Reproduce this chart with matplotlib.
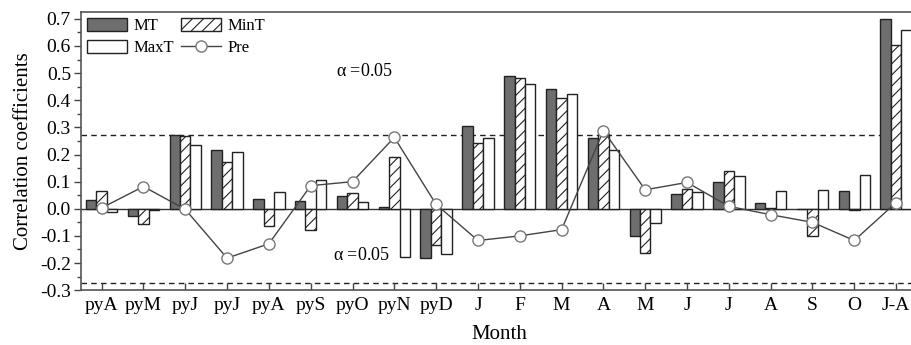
import matplotlib.pyplot as plt
import numpy as np
from matplotlib.ticker import MultipleLocator

months = ['pyA', 'pyM', 'pyJ', 'pyJ', 'pyA', 'pyS', 'pyO', 'pyN', 'pyD',
          'J', 'F', 'M', 'A', 'M', 'J', 'J', 'A', 'S', 'O', 'J-A']
mt = [0.031, -0.025, 0.273, 0.215, 0.037, 0.030, 0.046, 0.005, -0.183,
      0.304, 0.491, 0.442, 0.260, -0.100, 0.055, 0.097, 0.023, -0.002, 0.066, 0.700]
mint = [0.064, -0.055, 0.270, 0.172, -0.063, -0.077, 0.058, 0.190, -0.133,
        0.242, 0.482, 0.410, 0.275, -0.164, 0.073, 0.141, 0.003, -0.100, -0.004, 0.603]
maxt = [-0.012, -0.006, 0.236, 0.209, 0.062, 0.107, 0.025, -0.178, -0.167,
        0.260, 0.460, 0.424, 0.218, -0.053, 0.060, 0.119, 0.066, 0.070, 0.123, 0.660]
pre = [0.003, 0.082, -0.002, -0.182, -0.129, 0.085, 0.100, 0.263, 0.016,
       -0.117, -0.100, -0.077, 0.288, 0.070, 0.097, 0.009, -0.022, -0.050, -0.117, 0.023]
sig = 0.273

plt.rcParams['font.family'] = ['Liberation Serif', 'DejaVu Serif']
plt.rcParams['hatch.linewidth'] = 0.8
plt.rcParams['hatch.color'] = '#333333'

fig = plt.figure(figsize=(9.12, 3.45), dpi=100)
ax = fig.add_axes([0.0885, 0.159, 0.917, 0.806])

x = np.arange(len(months))
w = 0.25
ec = '#222222'
ax.bar(x - w, mt, w, color='#6e6e6e', edgecolor=ec, linewidth=1.0, label='MT', zorder=2)
ax.bar(x, mint, w, color='white', edgecolor=ec, hatch='///', linewidth=1.0, label='MinT', zorder=2)
ax.bar(x + w, maxt, w, color='white', edgecolor=ec, linewidth=1.0, label='MaxT', zorder=2)
ax.plot(x, pre, color='#444444', lw=1.0, marker='o', ms=8, mfc='white',
        mec='#777777', mew=1.0, label='Pre', zorder=3)

ax.axhline(0, color='#333333', lw=1.0, zorder=1)
ax.axhline(sig, color='#222222', lw=1.0, ls=(0, (4, 3)), zorder=1)
ax.axhline(-sig, color='#222222', lw=1.0, ls=(0, (4, 3)), zorder=1)
ax.text(6.28, 0.505, r'$\mathregular{\alpha}$ =0.05', fontsize=13, ha='center', va='center')
ax.text(6.22, -0.173, r'$\mathregular{\alpha}$ =0.05', fontsize=13, ha='center', va='center')

ax.set_xlim(-0.5, 19.5)
ax.set_ylim(-0.3, 0.725)
ax.set_xticks(x)
ax.set_xticklabels(months, fontsize=14)
ax.yaxis.set_minor_locator(MultipleLocator(0.05))
ax.set_yticks(np.arange(-0.3, 0.71, 0.1))
ax.set_yticklabels(['%.1f' % v for v in np.arange(-0.3, 0.71, 0.1)], fontsize=14)
ax.tick_params(axis='x', direction='in', length=5, width=1.0, color='#444444', pad=5)
ax.tick_params(axis='y', which='major', direction='out', length=5, width=1.0, color='#444444', pad=2)
ax.tick_params(axis='y', which='minor', direction='out', length=3, width=1.0, color='#444444')
for s in ax.spines.values():
    s.set_color('#555555')
    s.set_linewidth(1.2)

ax.set_xlabel('Month', fontsize=15, labelpad=8)
ax.set_ylabel('Correlation coefficients', fontsize=15, labelpad=5)

h, l = ax.get_legend_handles_labels()
order = [1, 3, 2, 0]
ax.legend([h[i] for i in order], [l[i] for i in order], ncol=2, loc='upper left',
          frameon=False, fontsize=12, handlelength=2.4, handleheight=0.8,
          columnspacing=0.45, handletextpad=0.4, labelspacing=0.35,
          borderaxespad=0.15, borderpad=0.2)

fig.savefig('out.png', dpi=100)
